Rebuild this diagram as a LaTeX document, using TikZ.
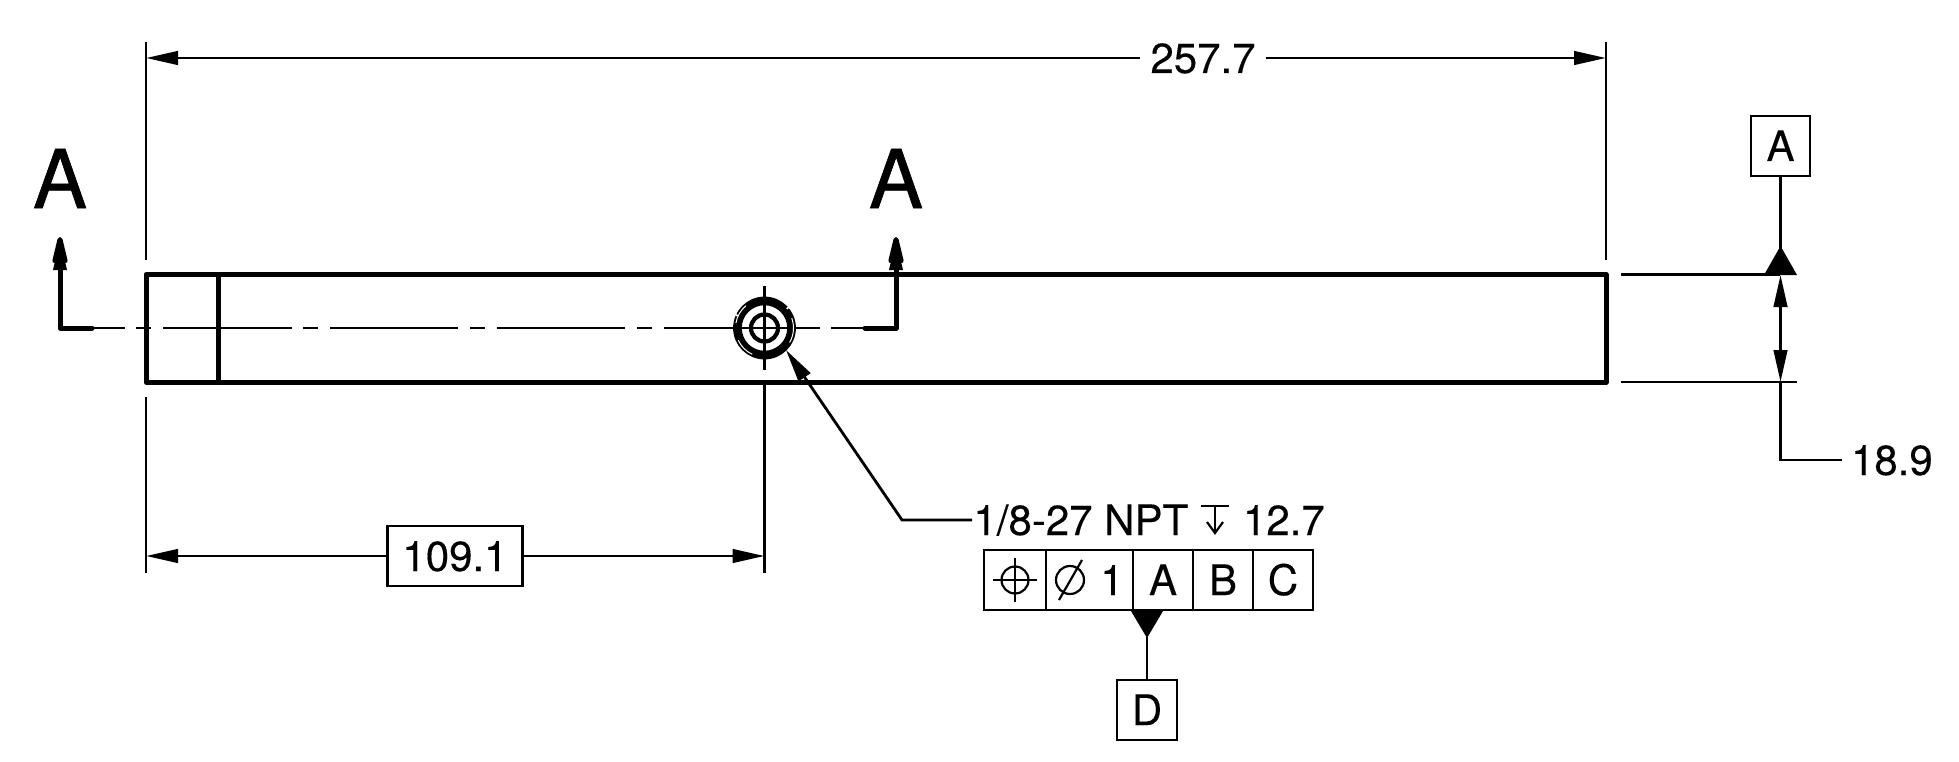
\documentclass[tikz,border=0pt]{standalone}
\usepackage{fontspec}
\setmainfont[FakeBold=0.25]{TeX Gyre Heros}
\newfontfamily\secfont[FakeBold=0.8]{TeX Gyre Heros}
\usetikzlibrary{arrows.meta}
\tikzset{
  thin line/.style={line width=2.8pt,line cap=butt},
  thick line/.style={line width=5pt,line join=round,line cap=round},
  dimarrow/.style={thin line,-{Triangle[length=32pt,width=13.5pt]}},
  dimboth/.style={thin line,{Triangle[length=32pt,width=13.5pt]}-{Triangle[length=32pt,width=13.5pt]}},
  cutarrow/.style={thick line,-{Triangle[length=36pt,width=15pt,round]}},
  dimtext/.style={font=\fontsize{42}{50}\selectfont,inner sep=0pt,outer sep=0pt,text height=30pt,text depth=0pt},
  labelbox/.style={dimtext,draw,line width=2.8pt,fill=white,anchor=center},
  secletter/.style={font=\secfont\fontsize{81}{96}\selectfont,inner sep=0pt,text height=60pt,text depth=0pt},
  datum/.style={fill=black,draw=none},
  sliver/.style={draw=white,line width=1pt},
}
\begin{document}
\begin{tikzpicture}[x=1pt,y=-1pt]
\useasboundingbox (0,0) rectangle (1959,762);
% extension line end points
\coordinate (extLa) at (146,42);  \coordinate (extLb) at (146,260);
\coordinate (extRa) at (1606,42); \coordinate (extRb) at (1606,260);
\coordinate (extLc) at (146,397); \coordinate (extLd) at (146,573);
\coordinate (extCc) at (764.5,382); \coordinate (extCd) at (764.5,573);
\coordinate (extTa) at (1621,274.5); \coordinate (extTb) at (1780,274.5);
\coordinate (extBa) at (1621,382); \coordinate (extBb) at (1797,382);
\coordinate (dimTL) at (146,58);  \coordinate (dimTR) at (1606,58);
\coordinate (dimBL) at (146,556); \coordinate (dimBR) at (764.5,556);
\coordinate (hgtT) at (1780.5,275); \coordinate (hgtB) at (1780.5,382);
\coordinate (ldrB) at (1780.5,460); \coordinate (ldrE) at (1842,460);
\coordinate (hole) at (764.5,328);
\coordinate (ldrTip) at (786,350); \coordinate (ldrK) at (902,520); \coordinate (ldrS) at (972,520);
% part
\draw[thick line,line cap=butt] (146,274.5) rectangle (1606,382);
\draw[thick line,line cap=butt] (218,274.5) -- (218,382);
% centre line
\draw[thin line] (92,328) -- (125,328) (136,328) -- (151,328)
  (163,328) -- (292,328) (303,328) -- (318,328)
  (330,328) -- (458,328) (470,328) -- (485,328)
  (497,328) -- (625,328) (637,328) -- (652,328)
  (664,328) -- (820,328) (831,328) -- (865,328);
\draw[thin line] (764.5,286) -- (764.5,370);
% threaded hole
\draw[line width=6.5pt] (hole) circle[radius=26];
\draw[line width=2.8pt,dash pattern=on 58pt off 2pt,dash phase=12pt] (hole) circle[radius=30];
\draw[sliver] (hole) ++(30:29) arc[start angle=30,end angle=-20,radius=29];
\draw[sliver] (hole) ++(-130:29) arc[start angle=-130,end angle=-170,radius=29];
\draw[sliver] (hole) ++(115:29) arc[start angle=115,end angle=155,radius=29];
\draw[line width=4.2pt] (hole) circle[radius=13.5];
% section arrows
\coordinate (cutLa) at (92,328); \coordinate (cutLb) at (60,328); \coordinate (cutLc) at (60,237);
\coordinate (cutRa) at (865,328); \coordinate (cutRb) at (896,328); \coordinate (cutRc) at (896,237);
\draw[cutarrow] (cutLa) -- (cutLb) -- (cutLc);
\draw[cutarrow] (cutRa) -- (cutRb) -- (cutRc);
\fill[datum] (60,240) -- (67,270) -- (53,270) -- cycle;
\fill[datum] (896,240) -- (903,270) -- (889,270) -- cycle;
\node[secletter] (secL) at (60,178) {A};
\node[secletter] (secR) at (896,178) {A};
% extension lines
\draw[thin line] (extLa) -- (extLb) (extRa) -- (extRb) (extLc) -- (extLd) (extCc) -- (extCd);
\draw[thin line] (extTa) -- (extTb) (extBa) -- (extBb);
% overall dimension
\node[dimtext,inner xsep=10.5pt] (d257) at (1203,58) {257.7};
\draw[dimarrow] (d257.west) -- (dimTL);
\draw[dimarrow] (d257.east) -- (dimTR);
% position dimension
\node[labelbox,minimum width=135pt,minimum height=60pt] (d109) at (455,556) {109.1};
\draw[dimarrow] (d109.west) -- (dimBL);
\draw[dimarrow] (d109.east) -- (dimBR);
% height dimension and datum A
\node[labelbox,minimum width=59pt,minimum height=60pt] (datA) at (1780.5,146) {A};
\fill[datum] (1780.5,246) -- (1797,275) -- (1764,275) -- cycle;
\draw[thin line] (datA.south) -- (1780.5,250);
\draw[dimboth] (hgtT) -- (hgtB);
\draw[thin line,line join=miter] (hgtB) -- (ldrB) -- (ldrE);
\node[dimtext,anchor=west] (d189) at (1851,460) {18.9};
% callout
\draw[thin line,line join=miter,{Triangle[length=33pt,width=14pt]}-] (ldrTip) -- (ldrK) -- (ldrS);
\node[dimtext,anchor=west] (cNPT) at (973.5,520) {1/8-27 NPT};
\node[dimtext,anchor=west] (cDepth) at (1243,520) {12.7};
\draw[line width=2.2pt] (1201,506) -- (1229,506) (1215,506) -- (1215,533);
\draw[line width=2.2pt] (1207,522) -- (1215,533) -- (1223,522);
% feature control frame
\node[labelbox,minimum width=62pt,minimum height=60pt] (fPos) at (1015,580) {};
\node[labelbox,minimum width=87pt,minimum height=60pt] (fTol) at (1089.5,580) {};
\node[labelbox,minimum width=60pt,minimum height=60pt] (fA) at (1163,580) {A};
\node[labelbox,minimum width=60pt,minimum height=60pt] (fB) at (1223,580) {B};
\node[labelbox,minimum width=60pt,minimum height=60pt] (fC) at (1283,580) {C};
\draw[line width=2.2pt] (fPos) circle[radius=13.5];
\draw[line width=2.2pt] (993,580) -- (1037,580) (1015,558) -- (1015,602);
\draw[line width=2.2pt] (1070,580) circle[radius=14];
\draw[line width=2.2pt] (1059,600) -- (1082,560);
\node[dimtext] (fOne) at (1112,580) {1};
% datum D
\fill[datum] (1131,611) -- (1163,611) -- (1147,638) -- cycle;
\node[labelbox,minimum width=60pt,minimum height=60pt] (datD) at (1147,710) {D};
\draw[thin line] (1147,634) -- (datD.north);
\end{tikzpicture}
\end{document}
